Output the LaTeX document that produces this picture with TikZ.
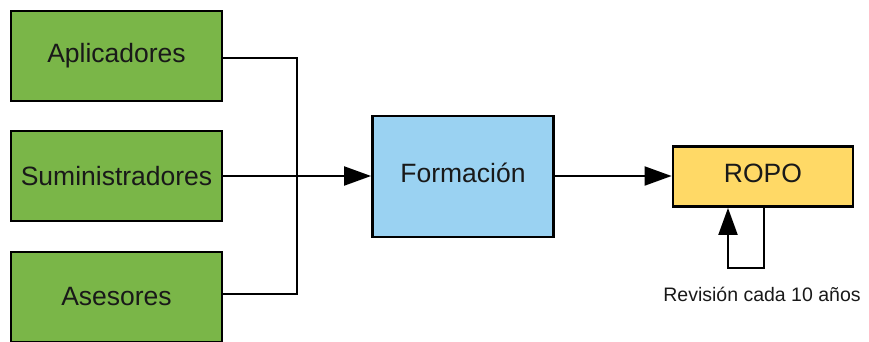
\documentclass[tikz,border=0pt]{standalone}
\usepackage{fontspec}
\setmainfont{Liberation Sans}
\usetikzlibrary{arrows.meta}
\definecolor{boxgreen}{HTML}{7AB648}
\definecolor{boxblue}{HTML}{9AD2F2}
\definecolor{boxyellow}{HTML}{FFD966}
\begin{document}
\begin{tikzpicture}[x=1pt,y=-1pt,
  blockbox/.style={draw=black,line width=2.8pt,minimum width=211pt,minimum height=90pt,
    inner sep=0pt,font=\fontsize{26.5}{30}\selectfont,text=black!90},
  conn/.style={line width=2pt,draw=black},
  tip/.style={-{Triangle[length=27pt,width=19pt]}}]
\useasboundingbox (0,0) rectangle (869,341);
\clip (0,0) rectangle (869,341);
\node[blockbox,fill=boxgreen] (apl) at (116.5,56) {Aplicadores};
\node[blockbox,fill=boxgreen] (sum) at (116.5,176) {Suministradores};
\node[blockbox,fill=boxgreen] (ase) at (116.5,297) {Asesores};
\node[blockbox,fill=boxblue,minimum width=181pt,minimum height=121pt] (for) at (463,176.5) {};
\node[blockbox,fill=boxyellow,minimum width=180pt,minimum height=60pt] (ropo) at (763,176.5) {};
\node[font=\fontsize{26.5}{30}\selectfont,text=black!90] (fortext) at (463,173) {Formación};
\node[font=\fontsize{26.5}{30}\selectfont,text=black!90] (ropotext) at (763,173) {ROPO};
\coordinate (bus) at (297,176);
\draw[conn] (apl.east |- 0,58) -| (bus) |- (ase.east |- 0,294);
\draw[conn,tip] (sum.east |- 0,176) -- (for.west |- 0,176);
\draw[conn,tip] (for.east |- 0,176) -- (ropo.west |- 0,176);
\coordinate (loopr) at (764,268);
\coordinate (loopl) at (728,268);
\draw[conn,tip] (ropo.south -| loopr) -- (loopr) -- (loopl) -- (ropo.south -| loopl);
\node[font=\fontsize{19.5}{23}\selectfont,text=black!90] (rev) at (762,294) {Revisión cada 10 años};
\end{tikzpicture}
\end{document}
